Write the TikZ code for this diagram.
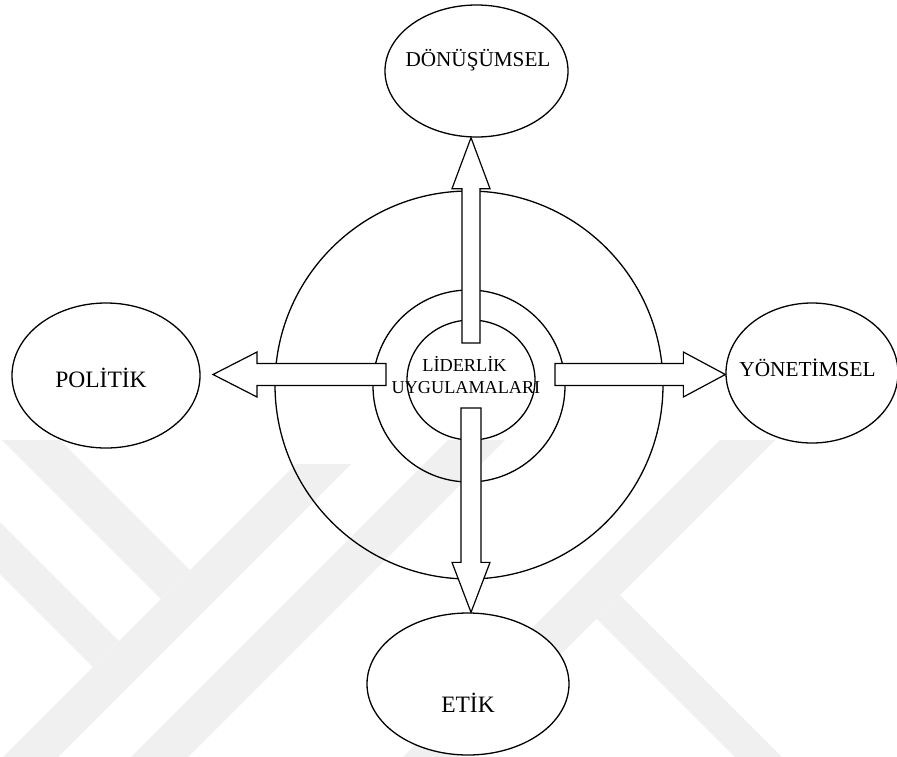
\documentclass[tikz,border=0pt]{standalone}
\usepackage{fontspec}
\setmainfont{Liberation Serif}
\usetikzlibrary{shapes.geometric,calc}
\definecolor{wm}{RGB}{240,240,240}
\tikzset{
  ring/.style={draw=black, line width=1.3pt, ellipse, inner sep=0pt},
  bubble/.style={draw=black, line width=1.3pt, ellipse, inner sep=0pt, fill=white},
  arrowbox/.style={draw=black, fill=white, line width=1.2pt, line join=miter},
  lbl/.style={inner sep=0pt, anchor=base, text=black},
  wmark/.style={fill=wm}
}
\newcommand\blockarrow[5]{%
  \path[arrowbox] let \p1=(#1), \p2=(#2),
    \n1={atan2(\y2-\y1,\x2-\x1)}, \n2={veclen(\x2-\x1,\y2-\y1)} in
    [shift={(\p1)}, rotate=\n1]
    (0,-#3) -- ({\n2-#5},-#3) -- ({\n2-#5},-#4) -- (\n2,0)
    -- ({\n2-#5},#4) -- ({\n2-#5},#3) -- (0,#3) -- cycle;}
\begin{document}
\begin{tikzpicture}[x=1pt,y=-1pt]
\useasboundingbox (0,0) rectangle (897,756);
\fill[white] (0,0) rectangle (897,756);
% watermark
\begin{scope}
\clip (0,0) rectangle (897,756);
\fill[wmark] (2,440) -- (60,440) -- (190,570) -- (161,599) -- cycle;
\fill[wmark] (-10,512) -- (119,641) -- (93,667) -- (-10,564) -- cycle;
\fill[wmark] (296,464) -- (351,464) -- (45,770) -- (-10,770) -- cycle;
\fill[wmark] (448,440) -- (505,440) -- (175,770) -- (118,770) -- cycle;
\fill[wmark] (720,440) -- (775,440) -- (445,770) -- (390,770) -- cycle;
\fill[wmark] (620,595) -- (795,770) -- (748,770) -- (596.5,618.5) -- cycle;
\end{scope}
% rings
\node[ring, minimum width=388pt, minimum height=388pt] (outer) at (469,385) {};
\node[ring, minimum width=192pt, minimum height=192pt] (mid) at (469,386) {};
\node[ring, minimum width=128pt, minimum height=120pt] (inner) at (471,380) {};
% outer bubbles
\node[bubble, minimum width=183pt, minimum height=132pt] (don) at (476.5,71) {};
\node[bubble, minimum width=188pt, minimum height=145pt] (pol) at (106,375.5) {};
\node[bubble, minimum width=172pt, minimum height=140pt] (yon) at (812,373) {};
\node[bubble, minimum width=202pt, minimum height=142pt] (etk) at (468,684) {};
% arrow anchors
\coordinate (uS) at (471,343);
\coordinate (dS) at (471,408);
\coordinate (lS) at (386,374.5);
\coordinate (lT) at (213,374.5);
\coordinate (rS) at (555,374.5);
% block arrows
\blockarrow{uS}{uS |- don.south}{9}{19}{51}
\blockarrow{dS}{dS |- etk.north}{10}{19}{50}
\blockarrow{lS}{lT}{11}{22.5}{44}
\blockarrow{rS}{rS -| yon.west}{11}{22.5}{42}
% labels
\node[lbl, font=\fontsize{21.2}{25}\selectfont] (donT) at (478,66) {DÖNÜŞÜMSEL};
\node[lbl, font=\fontsize{23.5}{27}\selectfont] (polT) at (101,387) {POLİTİK};
\node[lbl, font=\fontsize{21.3}{25}\selectfont] (yonT) at (807.5,376.5) {YÖNETİMSEL};
\node[lbl, font=\fontsize{23.5}{27}\selectfont] (etkT) at (468,712) {ETİK};
\node[lbl, font=\fontsize{18.3}{22}\selectfont] (lidT) at (464.5,371) {LİDERLİK};
\node[lbl, font=\fontsize{18.2}{22}\selectfont] (uygT) at (466,393) {UYGULAMALARI};
\end{tikzpicture}
\end{document}
